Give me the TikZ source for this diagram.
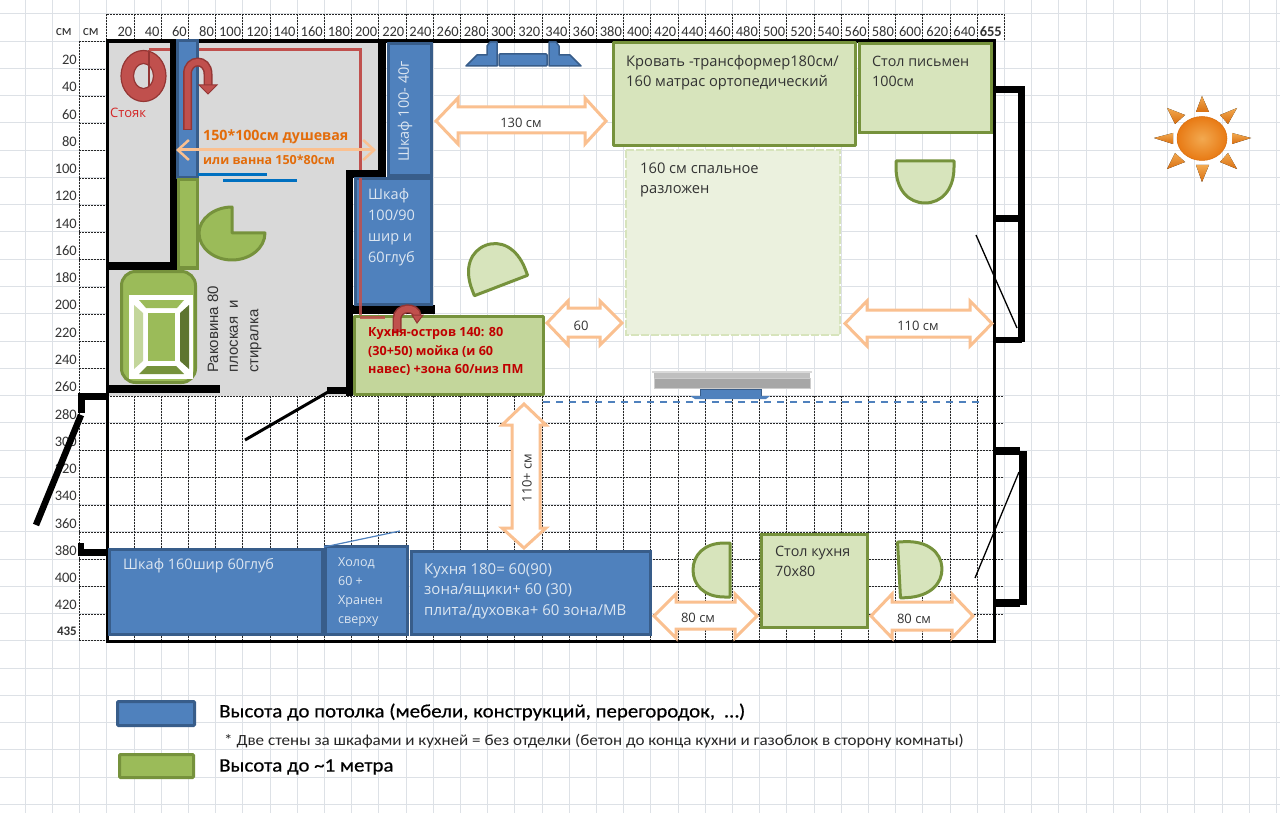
\documentclass[tikz,border=0pt]{standalone}
\usepackage{fontspec}
\setmainfont{Open Sans}
\newfontfamily\carl{Carlito}
\newfontfamily\carlw[FakeStretch=1.1]{Carlito}
\newfontfamily\carlb[FakeStretch=1.1,FakeBold=0.5]{Carlito}
\newfontfamily\libs{Liberation Sans}
\usetikzlibrary{arrows.meta}
\definecolor{sheetc}{HTML}{DDE1E6}
\definecolor{roomc}{HTML}{D9D9D9}
\definecolor{blf}{HTML}{4F81BD}
\definecolor{bld}{HTML}{385D8A}
\definecolor{grf}{HTML}{9BBB59}
\definecolor{grd}{HTML}{76923C}
\definecolor{grl}{HTML}{D7E4BC}
\definecolor{grm}{HTML}{C3D69B}
\definecolor{grp}{HTML}{EBF1DE}
\definecolor{orl}{HTML}{FAC090}
\definecolor{redp}{HTML}{C0504D}
\definecolor{redd}{HTML}{943634}
\definecolor{txt}{HTML}{333333}
\definecolor{pale}{HTML}{DCE6F1}
\definecolor{sunA}{HTML}{F2A950}
\definecolor{sunB}{HTML}{D96F10}
\definecolor{sunC}{HTML}{E87A14}
\definecolor{orgt}{HTML}{E36C0A}
\definecolor{bluel}{HTML}{0070C0}
\definecolor{redt}{HTML}{C00000}
\tikzset{
  sheetline/.style={draw=sheetc,line width=1pt},
  dashline/.style={draw=black!85,line width=.8pt,dash pattern=on 2pt off 1pt},
  wall/.style={fill=black,draw=none},
  bluebox/.style={fill=blf,draw=bld,line width=3pt},
  greenbox/.style={fill=grl,draw=grd,line width=3pt},
  gapar/.style={fill=white,draw=orl,line width=3pt,line join=miter},
  swing/.style={fill=grl,draw=grd,line width=3pt,line join=round},
  pipe/.style={draw=redp,line width=3pt},
  tl/.style={anchor=west,inner sep=0pt,align=left,text=txt,font=\fontsize{14.7}{20.5}\selectfont},
  tw/.style={anchor=west,inner sep=0pt,align=left,text=pale,font=\fontsize{14.5}{20.5}\selectfont},
  ctr/.style={anchor=center,inner sep=0pt,text=txt,font=\fontsize{13}{15}\selectfont},
  rul/.style={inner sep=0pt,text=txt,font=\carl\fontsize{14.5}{15}\selectfont},
  sunray/.style={top color=sunA,bottom color=sunB,draw=none},
  sinkt/.style={anchor=west,inner sep=0pt,rotate=90,text=txt,font=\libs\fontsize{15}{15}\selectfont},
}
\newcommand{\hdbl}[8]{\draw[gapar] (#1,{(#5+#8)/2}) -- (#2,#5) -- (#2,#6) -- (#3,#6) -- (#3,#5) -- (#4,{(#5+#8)/2}) -- (#3,#8) -- (#3,#7) -- (#2,#7) -- (#2,#8) -- cycle;}
\newcommand{\dshp}[5]{\begin{scope}[shift={(#1,#2)},rotate=#3]
  \draw[swing] (-#4,0) -- (-#4,{-#5*0.15}) .. controls (-#4,{-#5*0.7}) and ({-#4*0.55},-#5) .. (0,-#5) .. controls ({#4*0.55},-#5) and (#4,{-#5*0.7}) .. (#4,{-#5*0.15}) -- (#4,0) -- cycle;
\end{scope}}
\begin{document}
\begin{tikzpicture}[x=1pt,y=-1pt]
\useasboundingbox (0,0) rectangle (1280,813);
\fill[white] (0,0) rectangle (1280,813);
% sheet grid
\foreach \k in {-3,...,43} {\draw[sheetline] ({106.8+27.2*\k},0) -- ({106.8+27.2*\k},813);}
\foreach \k in {0,...,29} {\draw[sheetline] (0,{14+27.25*\k}) -- (1280,{14+27.25*\k});}
% room
\fill[roomc] (107,41) -- (380,41) -- (380,172) -- (350,172) -- (350,396) -- (107,396) -- cycle;
% header dashed cells
\draw[dashline] (107,14) -- (1003,14);
\foreach \k in {0,...,33} {\draw[dashline] ({106.8+27.2*\k},14) -- ({106.8+27.2*\k},41);}
\draw[dashline] (79,41) -- (79,640);
\foreach \k in {0,...,21} {\draw[dashline] (79,{41.7+27.25*\k}) -- (107,{41.7+27.25*\k});}
\draw[dashline] (79,640) -- (107,640);
% lower dashed grid
\foreach \k in {0,...,32} {\draw[dashline] ({106.8+27.2*\k},396) -- ({106.8+27.2*\k},640);}
\foreach \k in {13,...,21} {\draw[dashline] (107,{41.7+27.25*\k}) -- (1003,{41.7+27.25*\k});}
% ruler labels
\node[rul,anchor=east] (cmA) at (72,32) {см};
\node[rul,anchor=east] (cmB) at (99,32) {см};
\foreach \v [count=\i] in {20,40,...,640} {\node[rul,anchor=east] (tp\i) at ({106.8+27.2*\i-1.5},32) {\v};}
\node[rul,anchor=east,font=\carl\bfseries\fontsize{14.5}{15}\selectfont] (tp655) at (1002,32) {655};
\foreach \v [count=\i] in {20,40,...,420} {\node[rul,anchor=east] (lf\i) at (77,{41.7+27.25*\i-9}) {\v};}
\node[rul,anchor=east,font=\carl\bfseries\fontsize{13}{15}\selectfont] (lf435) at (77,631) {435};
% pipe behind walls
\draw[pipe,line width=2pt] (149,50) -- (149,88);
\draw[pipe] (149,50) -- (360,50) -- (360,172);
% walls
\fill[wall] (105.5,39.5) rectangle (996,43);
\fill[wall] (105.5,39.5) rectangle (108.5,642.5);
\fill[wall] (105.5,639.5) rectangle (996,642.5);
\fill[wall] (993,39.5) rectangle (996,642.5);
\fill[wall] (170,41) rectangle (177,270);
\fill[wall] (107,262) rectangle (177,270);
\fill[wall] (378,41) rectangle (386,178);
\fill[wall] (346,170) rectangle (386,178);
\fill[wall] (346,170) rectangle (353,396);
\fill[wall] (353,305) rectangle (435,314);
\fill[wall] (327,387) rectangle (353,394);
\fill[wall] (107,385) rectangle (220,393);
\fill[wall] (78,393) rectangle (108,400);
\fill[wall] (78,393) rectangle (85,413);
\draw[black,line width=6.5pt] (81,415) -- (36,525);
\draw[black,line width=3pt] (328,392) -- (245,440);
\fill[wall] (78,543) rectangle (84,556);
\fill[wall] (78,549) rectangle (108,556);
% right windows
\fill[wall] (994,86) rectangle (1025,93);
\fill[wall] (1018,86) rectangle (1025,342);
\fill[wall] (994,215) rectangle (1025,222);
\fill[wall] (994,337) rectangle (1022,343);
\draw[black,line width=1.3pt] (976,235) -- (1017,328);
\fill[wall] (994,447) rectangle (1020,455);
\fill[wall] (1019,451) rectangle (1027,605);
\fill[wall] (994,599) rectangle (1020,607);
\draw[black,line width=1.3pt] (975,578) -- (1019,472);
% blue furniture
\draw[bluebox] (177,41) rectangle (197,178);
\draw[bluebox] (388,44) rectangle (431,176);
\draw[bluebox] (355,179) rectangle (431,304);
\draw[bluebox] (109,549) rectangle (322,634);
\draw[bluebox] (325,546) rectangle (407,634);
\draw[bluebox] (411,551) rectangle (650,634);
% green strip & pacman
\draw[fill=grf,draw=grd,line width=3pt] (178,180) rectangle (197,268);
\draw[fill=grf,draw=grd,line width=3pt,line join=round] (232,233) -- (232,207) .. controls (214,207) and (199,219) .. (199,233) .. controls (199,248) and (214,260) .. (232,260) .. controls (250,260) and (265,248) .. (265,233) -- cycle;
% blue lines
\draw[bluel,line width=3pt] (198,175) -- (267,175);
\draw[bluel,line width=3pt] (223,181) -- (297,181);
\draw[draw=blf,line width=1.2pt] (324,547) -- (400,531);
% sink
\draw[fill=grf,draw=grd,line width=3pt,rounded corners=14pt] (121.5,271.5) rectangle (195.5,382.5);
\fill[white] (129,295) rectangle (193,379);
\fill[grf] (139,300) -- (184,300) -- (177,308) -- (146,308) -- cycle;
\fill[grd] (139,374) -- (184,374) -- (176,366) -- (147,366) -- cycle;
\fill[grm] (134,305) -- (143,313) -- (143,361) -- (134,369) -- cycle;
\fill[grd!80!black] (189,305) -- (180,313) -- (180,361) -- (189,369) -- cycle;
\fill[grf] (148,313) rectangle (175,361);
% stoyak
\fill[redp,even odd rule,draw=redd,line width=1.2pt] (143.5,76) ellipse [x radius=22.5,y radius=25.5] (143.5,76) ellipse [x radius=10,y radius=12.5];
\draw[pipe,line width=2pt,redd] (149,52) -- (149,86);
% pipe over cabinet
\draw[pipe,opacity=.85] (360,178) -- (360,317) -- (385,317);
% U arrow
\draw[redd,line width=9pt] (187.5,130) -- (187.5,74) .. controls (187.5,58) and (208,58) .. (208,74) -- (208,86);
\draw[redp,line width=6pt] (187.5,129) -- (187.5,74) .. controls (187.5,58) and (208,58) .. (208,74) -- (208,86);
\fill[redp,draw=redd,line width=1pt] (199,85) -- (217,85) -- (208,94) -- cycle;
% window north
\draw[fill=blf,draw=bld,line width=1.5pt,line join=round] (497,42) -- (490,42) -- (487,46) -- (487,55) -- (477,55) -- (466,66) -- (497,66) -- cycle;
\draw[fill=blf,draw=bld,line width=1.5pt,line join=round] (549,42) -- (556,42) -- (559,46) -- (559,55) -- (570,55) -- (581,66) -- (549,66) -- cycle;
\draw[fill=blf,draw=bld,line width=1.5pt,rounded corners=1pt] (499,54) rectangle (547,66);
% bed
\draw[fill=grp,draw=grl,line width=2.5pt,dash pattern=on 8pt off 2pt] (626,150) rectangle (840,335);
\draw[greenbox,line join=round] (613,43) rectangle (855,146);
\draw[greenbox] (859,44) rectangle (991,133);
\draw[greenbox] (761,534) rectangle (867,627);
% island
\draw[fill=grm,draw=grd,line width=3pt,line join=round] (354,316) rectangle (543,394);
\draw[pipe,opacity=.85] (360,317) -- (385,317);
\draw[redd,line width=9pt] (397,332) -- (397,319) .. controls (397,306) and (417,306) .. (417,316);
\draw[redp,line width=6pt] (397,331) -- (397,319) .. controls (397,306) and (417,306) .. (417,316);
\fill[redp,draw=redd,line width=1pt] (412,315) -- (423,315) -- (417,323) -- cycle;
% swings
\dshp{501}{285.5}{21}{28.5}{43}
\dshp{925}{161}{180}{29}{42}
\dshp{730}{570}{90}{27}{37}
\dshp{899}{570}{-87}{28}{43}
% gap arrows
\hdbl{436}{458}{585}{606}{98}{107}{133}{144}
\hdbl{845}{867}{970}{992}{301}{310}{337}{346}
\hdbl{547}{568}{600}{622}{301}{308}{337}{345}
\hdbl{654}{676}{735}{757}{594}{602}{629}{638}
\hdbl{871}{892}{952}{973}{594}{602}{630}{638}
\draw[gapar] (524,404) -- (546,425) -- (540,425) -- (540,528) -- (546,528) -- (524,548) -- (502,528) -- (512,528) -- (512,425) -- (502,425) -- cycle;
% orange double arrow
\coordinate (wl) at (176,150);
\coordinate (wr) at (376,150);
\draw[orl,line width=3pt,{Straight Barb[length=11pt,width=20pt,line width=2.5pt]}-{Straight Barb[length=11pt,width=20pt,line width=2.5pt]}] (wl) -- (wr);
% TV and dashed wall line
\fill[black!25] (654,373) rectangle (810,378);
\fill[black!15] (652,371) rectangle (812,373);
\fill[black!35] (654,378) rectangle (810,388);
\draw[black!20] (654,378) rectangle (810,388);
\fill[blf,draw=bld] (700,389) rectangle (761,397);
\fill[blf] (690,396) -- (770,396) -- (766,399) -- (695,399) -- cycle;
\draw[blf,line width=1.2pt,dash pattern=on 7pt off 6pt] (543,402) -- (983,402);
% sun
\begin{scope}
\fill[sunray] (1202,96) -- (1209,112) -- (1196,112) -- cycle;
\fill[sunray] (1202,182) -- (1209,165) -- (1196,165) -- cycle;
\fill[sunray] (1154,138) -- (1173,133) -- (1173,144) -- cycle;
\fill[sunray] (1251,138) -- (1232,133) -- (1232,144) -- cycle;
\fill[sunray] (1167,108) -- (1185,115) -- (1175,124) -- cycle;
\fill[sunray] (1237,108) -- (1220,115) -- (1228,124) -- cycle;
\fill[sunray] (1167,169) -- (1175,153) -- (1185,162) -- cycle;
\fill[sunray] (1237,169) -- (1228,153) -- (1220,162) -- cycle;
\shade[inner color=sunA,outer color=sunC,draw=sunB,line width=.5pt] (1202,138.5) ellipse [x radius=25,y radius=22];
\end{scope}
% labels
\node[anchor=west,inner sep=0pt,text=red!80!black!85,font=\fontsize{13}{15}\selectfont] (stoyak) at (110,113) {Стояк};
\node[anchor=west,inner sep=0pt,text=orgt,font=\bfseries\fontsize{14.2}{15}\selectfont] (shower) at (203,137) {150*100см душевая};
\node[anchor=west,inner sep=0pt,text=orgt,font=\bfseries\fontsize{12.5}{15}\selectfont] (bath) at (203,160) {или ванна 150*80см};
\node[tw,rotate=90] (cab1) at (405,162) {Шкаф 100- 40г};
\node[tw,font=\fontsize{14.5}{21}\selectfont] (cab2) at (368,227.5) {Шкаф\\100/90\\шир и\\60глуб};
\node[sinkt] (sinkA) at (213,373) {Раковина 80};
\node[sinkt] (sinkB) at (234,373) {плоская\ \ и};
\node[sinkt] (sinkC) at (256,373) {стиралка};
\node[anchor=west,inner sep=0pt,align=left,text=redt,font=\bfseries\fontsize{12.6}{18.5}\selectfont] (island) at (368,351.5) {Кухня-остров 140: 80\\(30+50) мойка (и 60\\навес) +зона 60/низ ПМ};
\node[ctr] (g130) at (521,123) {130 см};
\node[ctr] (g60) at (581,326) {60};
\node[ctr] (g110) at (918,326) {110 см};
\node[ctr] (g80a) at (698,618) {80 см};
\node[ctr] (g80b) at (914,619) {80 см};
\node[ctr,rotate=90] (g110p) at (527,478) {110+ см};
\node[tl] (bed) at (626,72.5) {Кровать -трансформер180см/\\160 матрас ортопедический};
\node[tl] (bed2) at (640,180) {160 см спальное\\разложен};
\node[tl,font=\fontsize{14.3}{20.5}\selectfont] (desk) at (872,71.5) {Стол письмен\\100см};
\node[tl,font=\fontsize{14.3}{20.5}\selectfont] (table) at (775,561.5) {Стол кухня\\70x80};
\node[tw] (wardrobe) at (123,566) {Шкаф 160шир 60глуб};
\node[tw,font=\fontsize{12.5}{18.7}\selectfont] (fridge) at (338,592) {Холод\\60 +\\Хранен\\сверху};
\node[tw,font=\fontsize{15}{20.5}\selectfont] (kitchen) at (424,591) {Кухня 180= 60(90)\\зона/ящики+ 60 (30)\\плита/духовка+ 60 зона/МВ};
% legend
\draw[bluebox,rounded corners=1pt] (117.5,701.5) rectangle (194.5,725.5);
\draw[fill=grf,draw=grd,line width=3pt,rounded corners=1pt] (119.5,754.5) rectangle (193.5,777.5);
\node[anchor=west,inner sep=0pt,text=black,font=\carlb\fontsize{19}{20}\selectfont] (lgA) at (219,712) {Высота до потолка (мебели, конструкций, перегородок,\ \ …)};
\node[anchor=west,inner sep=0pt,text=black!85,font=\carlw\fontsize{15.5}{16}\selectfont] (lgN) at (224,741) {* Две стены за шкафами и кухней = без отделки (бетон до конца кухни и газоблок в сторону комнаты)};
\node[anchor=west,inner sep=0pt,text=black,font=\carlb\fontsize{19}{20}\selectfont] (lgB) at (219,767) {Высота до \textasciitilde1 метра};
\end{tikzpicture}
\end{document}
